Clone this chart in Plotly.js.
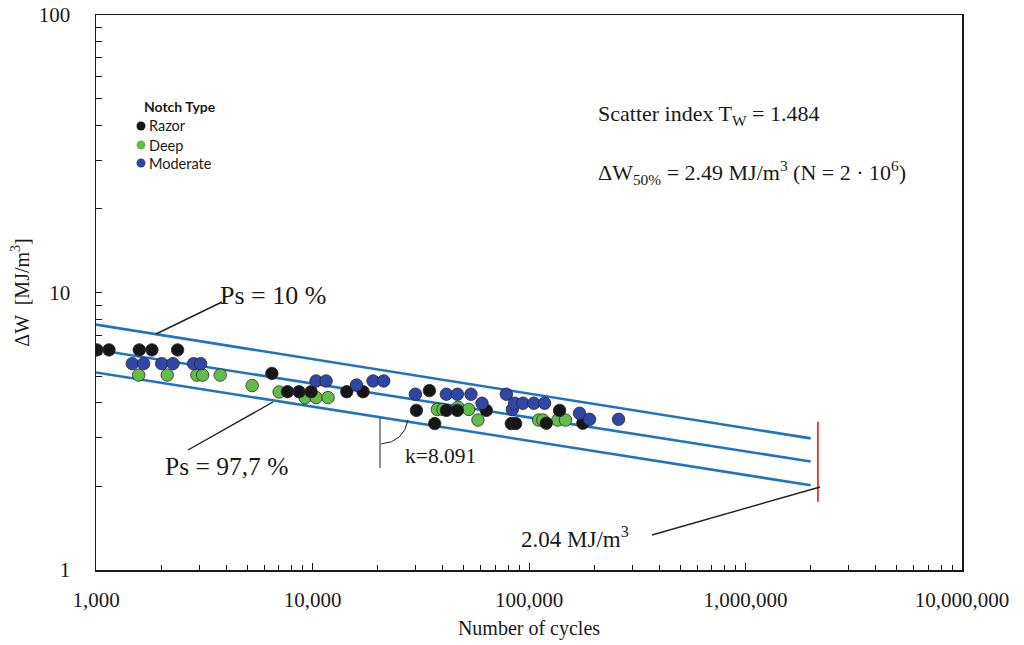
<!DOCTYPE html>
<html><head><meta charset="utf-8">
<script src="https://cdn.plot.ly/plotly-3.0.1.min.js"></script>
<style>body{margin:0;background:#fff}#chart{width:1024px;height:645px}</style>
</head><body><div id="chart"></div>
<script>
// ---- data ----
const razorN = [1010, 1148, 1584, 1813, 2382, 6491, 7665, 8672, 9852, 14398, 17122, 30200, 34670, 36680, 41530, 46690, 63530, 82850, 86770, 120200, 138440, 177300];
const razorW = [6.21, 6.21, 6.21, 6.21, 6.21, 5.11, 4.39, 4.39, 4.39, 4.39, 4.39, 3.76, 4.43, 3.37, 3.76, 3.76, 3.76, 3.37, 3.37, 3.38, 3.76, 3.38];
const deepN = [1574, 2133, 2925, 3108, 3747, 5265, 7013, 9245, 10390, 11803, 37740, 40060, 46980, 52640, 58100, 110750, 115940, 135960, 147500, 178600];
const deepW = [5.04, 5.04, 5.04, 5.04, 5.04, 4.62, 4.38, 4.18, 4.18, 4.18, 3.79, 3.79, 3.86, 3.79, 3.47, 3.47, 3.47, 3.47, 3.47, 3.49];
const moderateN = [1471, 1660, 2010, 2267, 2824, 3042, 10390, 11555, 15960, 19042, 21330, 29875, 41530, 46690, 53950, 60640, 78580, 83750, 85820, 93740, 105340, 118030, 171200, 190400, 259100];
const moderateW = [5.54, 5.54, 5.54, 5.54, 5.54, 5.54, 4.80, 4.80, 4.64, 4.80, 4.80, 4.30, 4.30, 4.30, 4.30, 3.99, 4.30, 3.79, 3.99, 3.99, 3.99, 3.99, 3.67, 3.49, 3.49];

const bandN = [1000, 2000000];
const ps10W = [7.66, 2.98];
const ps50W = [6.22, 2.46];
const ps977W = [5.15, 2.02];
const limitN = [2160000, 2160000];
const limitW = [3.42, 1.76];

const xTickVals = [1000, 10000, 100000, 1000000, 10000000];
const xTickText = ['1,000', '10,000', '100,000', '1,000,000', '10,000,000'];
const yTickVals = [1, 10, 100];
const yTickText = ['1', '10', '100'];

// ---- layout helpers (pixel -> paper) ----
const L = 96, R = 962, T = 15, B = 570;
const px = x => (x - L) / (R - L);
const py = y => (B - y) / (B - T);

const xMinor = [], yMinor = [];
for (let d = 1000; d < 1e7; d *= 10) for (let m = 2; m <= 9; m++) xMinor.push(m * d);
for (let d = 1; d < 100; d *= 10) for (let m = 2; m <= 9; m++) yMinor.push(m * d);

const mk = (c) => ({size: 12.5, color: c, line: {color: '#2a2a2a', width: 0.8}});
const blueLine = {color: '#1f74c2', width: 2.6};

const traces = [
  {x: bandN, y: ps10W, mode: 'lines', line: blueLine, hoverinfo: 'skip'},
  {x: bandN, y: ps50W, mode: 'lines', line: blueLine, hoverinfo: 'skip'},
  {x: bandN, y: ps977W, mode: 'lines', line: blueLine, hoverinfo: 'skip'},
  {x: limitN, y: limitW, mode: 'lines', line: {color: '#ff2a2a', width: 1.8}, hoverinfo: 'skip'},
  {x: deepN, y: deepW, mode: 'markers', name: 'Deep', marker: mk('#62bd48')},
  {x: razorN, y: razorW, mode: 'markers', name: 'Razor', marker: mk('#161616')},
  {x: moderateN, y: moderateW, mode: 'markers', name: 'Moderate', marker: mk('#2f46a6')}
];

const serif = 'Liberation Serif, Times New Roman, serif';
const sans = 'Lato, sans-serif';
const txt = (text, x, y, size, family) => ({
  text, xref: 'paper', yref: 'paper', x: px(x), y: py(y), xanchor: 'left', yanchor: 'middle',
  showarrow: false, font: {family: family || serif, size: size, color: '#1a1a1a'}
});
const seg = (x0, y0, x1, y1, w) => ({type: 'line', xref: 'paper', yref: 'paper',
  x0: px(x0), y0: py(y0), x1: px(x1), y1: py(y1), line: {color: '#222', width: w || 1.4}});
const dot = (x, y, c) => ({type: 'circle', xref: 'paper', yref: 'paper', xsizemode: 'pixel', ysizemode: 'pixel',
  xanchor: px(x), yanchor: py(y), x0: -4.5, x1: 4.5, y0: -4.5, y1: 4.5, fillcolor: c, line: {width: 0}});

const arcPath = 'M ' + px(381) + ',' + py(444) + ' Q ' + px(404) + ',' + py(442) + ' ' + px(408) + ',' + py(420);

const layout = {
  width: 1024, height: 645,
  margin: {l: L, r: 1024 - R, t: T, b: 645 - B},
  paper_bgcolor: '#fff', plot_bgcolor: '#fff',
  showlegend: false,
  font: {family: serif, color: '#1a1a1a'},
  xaxis: {
    type: 'log', range: [3, 7], showgrid: false, zeroline: false,
    showline: true, linecolor: '#1a1a1a', linewidth: 1.5, mirror: true,
    tickmode: 'array', tickvals: xTickVals, ticktext: xTickText,
    ticks: 'inside', ticklen: 7, tickwidth: 1, tickcolor: '#1a1a1a',
    minor: {tickmode: 'array', tickvals: xMinor, ticks: 'inside', ticklen: 5, tickwidth: 1, tickcolor: '#1a1a1a'},
    ticklabelstandoff: 10,
    tickfont: {family: serif, size: 21, color: '#1a1a1a'},
    title: {text: 'Number of cycles', font: {family: serif, size: 20, color: '#1a1a1a'}, standoff: 10}
  },
  yaxis: {
    type: 'log', range: [0, 2], showgrid: false, zeroline: false,
    showline: true, linecolor: '#1a1a1a', linewidth: 1.5, mirror: true,
    tickmode: 'array', tickvals: yTickVals, ticktext: yTickText,
    ticks: 'inside', ticklen: 6, tickwidth: 1, tickcolor: '#1a1a1a',
    minor: {tickmode: 'array', tickvals: yMinor, ticks: 'inside', ticklen: 6, tickwidth: 1, tickcolor: '#1a1a1a'},
    ticklabelstandoff: 20,
    tickfont: {family: serif, size: 21, color: '#1a1a1a'},
    title: {text: 'ΔW  [MJ/m<sup>3</sup>]', font: {family: serif, size: 20, color: '#1a1a1a'}, standoff: 4}
  },
  shapes: [
    seg(156, 334, 222, 302),
    seg(188, 450, 273, 402),
    seg(652, 535, 820, 487),
    seg(380, 418, 380, 468, 1),
    {type: 'path', xref: 'paper', yref: 'paper', path: arcPath, line: {color: '#222', width: 1}},
    dot(141, 126, '#161616'),
    dot(141, 145, '#62bd48'),
    dot(141, 163, '#2f46a6')
  ],
  annotations: [
    txt('Ps = 10 %', 218, 295, 26),
    txt('Ps = 97,7 %', 163, 466, 25.5),
    txt('k=8.091', 403, 456, 21.5),
    txt('2.04 MJ/m<sup>3</sup>', 519, 537, 23),
    txt('Scatter index T<sub>W</sub> = 1.484', 596, 115, 22),
    txt('ΔW<sub>50%</sub> = 2.49 MJ/m<sup>3</sup> (N = 2 · 10<sup>6</sup>)', 596, 172, 22),
    txt('<b>Notch Type</b>', 142, 106, 14, sans),
    txt('Razor', 147, 126, 14.5, sans),
    txt('Deep', 147, 145, 14.5, sans),
    txt('Moderate', 147, 163, 14.5, sans)
  ]
};

Plotly.newPlot('chart', traces, layout, {displayModeBar: false, staticPlot: true});
</script>
</body></html>
